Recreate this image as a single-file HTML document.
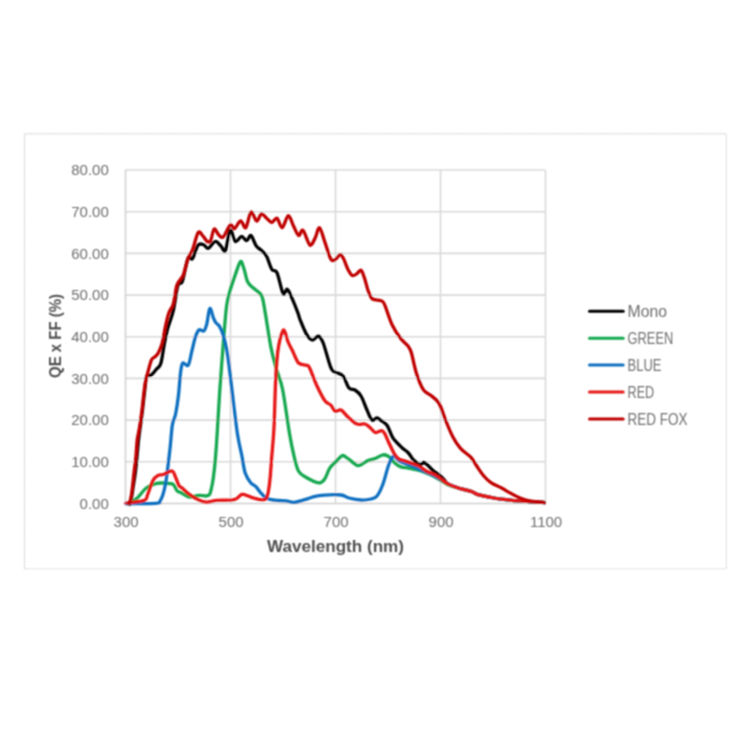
<!DOCTYPE html>
<html><head><meta charset="utf-8"><style>
html,body{margin:0;padding:0;background:#fff;}
body{width:750px;height:750px;overflow:hidden;}
svg{display:block;}
.ax{font-family:"Liberation Sans",sans-serif;font-size:15px;fill:#6e6e6e;}
.ti{font-family:"Liberation Sans",sans-serif;font-size:16px;font-weight:bold;fill:#4f4f4f;}
.lg{font-family:"Liberation Sans",sans-serif;font-size:16.5px;fill:#6e6e6e;}
</style></head><body>
<svg width="750" height="750" viewBox="0 0 750 750"><defs><filter id="bl" x="0" y="0" width="750" height="750" filterUnits="userSpaceOnUse"><feConvolveMatrix order="3" kernelMatrix="1 2 1 2 4 2 1 2 1" divisor="16" edgeMode="duplicate"/></filter></defs><g filter="url(#bl)">
<path d="M24.5 569 V133.8 H726.5" fill="none" stroke="#c8c8c8" stroke-width="1" stroke-dasharray="2 1"/>
<path d="M24.5 568.8 H726.3 V133.8" fill="none" stroke="#e3e3e3" stroke-width="1.1"/>
<line x1="125" y1="170.0" x2="545" y2="170.0" stroke="#d9d9d9" stroke-width="1.6"/>
<line x1="125" y1="211.7" x2="545" y2="211.7" stroke="#d9d9d9" stroke-width="1.6"/>
<line x1="125" y1="253.4" x2="545" y2="253.4" stroke="#d9d9d9" stroke-width="1.6"/>
<line x1="125" y1="295.1" x2="545" y2="295.1" stroke="#d9d9d9" stroke-width="1.6"/>
<line x1="125" y1="336.8" x2="545" y2="336.8" stroke="#d9d9d9" stroke-width="1.6"/>
<line x1="125" y1="378.4" x2="545" y2="378.4" stroke="#d9d9d9" stroke-width="1.6"/>
<line x1="125" y1="420.1" x2="545" y2="420.1" stroke="#d9d9d9" stroke-width="1.6"/>
<line x1="125" y1="461.8" x2="545" y2="461.8" stroke="#d9d9d9" stroke-width="1.6"/>
<line x1="230.5" y1="170" x2="230.5" y2="503.5" stroke="#d9d9d9" stroke-width="1.6"/>
<line x1="335.5" y1="170" x2="335.5" y2="503.5" stroke="#d9d9d9" stroke-width="1.6"/>
<line x1="440.5" y1="170" x2="440.5" y2="503.5" stroke="#d9d9d9" stroke-width="1.6"/>
<line x1="545.5" y1="170" x2="545.5" y2="503.5" stroke="#d9d9d9" stroke-width="1.6"/>
<line x1="125.5" y1="170" x2="125.5" y2="504" stroke="#d0d0d0" stroke-width="1.5"/>
<line x1="125" y1="503.5" x2="545" y2="503.5" stroke="#d0d0d0" stroke-width="1.5"/>
<text x="108.8" y="175.3" text-anchor="end" class="ax">80.00</text>
<text x="108.8" y="217.0" text-anchor="end" class="ax">70.00</text>
<text x="108.8" y="258.7" text-anchor="end" class="ax">60.00</text>
<text x="108.8" y="300.4" text-anchor="end" class="ax">50.00</text>
<text x="108.8" y="342.1" text-anchor="end" class="ax">40.00</text>
<text x="108.8" y="383.7" text-anchor="end" class="ax">30.00</text>
<text x="108.8" y="425.4" text-anchor="end" class="ax">20.00</text>
<text x="108.8" y="467.1" text-anchor="end" class="ax">10.00</text>
<text x="108.8" y="508.8" text-anchor="end" class="ax">0.00</text>
<text x="126.1" y="526.8" text-anchor="middle" class="ax">300</text>
<text x="231.1" y="526.8" text-anchor="middle" class="ax">500</text>
<text x="336.1" y="526.8" text-anchor="middle" class="ax">700</text>
<text x="441.1" y="526.8" text-anchor="middle" class="ax">900</text>
<text x="546.1" y="526.8" text-anchor="middle" class="ax">1100</text>
<text x="335.5" y="551.8" text-anchor="middle" class="ti" textLength="137" lengthAdjust="spacingAndGlyphs">Wavelength (nm)</text>
<text transform="translate(60.8,336) rotate(-90)" text-anchor="middle" class="ti" textLength="84" lengthAdjust="spacingAndGlyphs">QE x FF (%)</text>
<path d="M129.0 504.0 C129.2 503.8 129.8 505.7 130.5 503.0 C131.2 500.3 132.2 493.1 133.0 488.0 C133.8 482.9 134.6 477.9 135.3 472.7 C136.0 467.5 136.5 462.1 137.0 456.7 C137.5 451.2 138.0 444.8 138.5 440.0 C139.0 435.2 139.4 433.0 140.1 428.0 C140.8 423.0 141.7 416.7 142.5 410.0 C143.3 403.3 144.3 393.7 145.0 388.0 C145.7 382.3 145.8 378.1 146.8 376.0 C147.8 373.9 149.4 376.3 151.0 375.2 C152.6 374.1 154.8 371.1 156.4 369.2 C158.0 367.3 159.5 367.7 160.8 363.6 C162.1 359.5 163.1 350.5 164.2 344.7 C165.3 338.9 166.1 334.5 167.6 328.8 C169.1 323.1 171.6 317.9 173.3 310.7 C175.0 303.5 176.3 290.7 177.8 285.8 C179.3 280.9 180.7 285.8 182.4 281.2 C184.1 276.6 186.3 262.3 188.0 258.5 C189.7 254.7 190.9 260.8 192.6 258.5 C194.3 256.2 196.3 247.2 198.2 245.0 C200.1 242.8 202.2 244.4 203.9 245.0 C205.6 245.6 206.5 248.9 208.4 248.3 C210.3 247.7 213.1 241.9 215.2 241.5 C217.3 241.1 219.2 244.5 220.9 246.0 C222.6 247.5 223.9 253.2 225.4 250.6 C226.9 248.0 228.5 231.8 230.2 230.3 C231.9 228.8 233.5 240.6 235.4 241.6 C237.3 242.6 239.6 236.6 241.5 236.4 C243.4 236.2 245.1 240.8 246.7 240.7 C248.3 240.5 249.4 234.6 251.0 235.5 C252.6 236.4 254.5 243.4 256.2 245.9 C257.9 248.4 259.7 248.6 261.4 250.3 C263.1 252.0 264.9 253.1 266.6 256.3 C268.3 259.5 270.1 266.6 271.8 269.3 C273.5 272.1 275.1 268.8 277.0 272.8 C278.9 276.9 281.4 290.9 283.1 293.6 C284.8 296.4 285.8 288.3 287.4 289.3 C289.0 290.3 290.9 295.8 292.6 299.7 C294.3 303.6 296.5 309.2 297.8 312.6 C299.1 316.0 298.8 316.5 300.2 320.0 C301.6 323.5 304.3 330.5 306.3 333.8 C308.3 337.1 310.4 339.6 312.4 340.0 C314.4 340.4 316.7 335.6 318.5 336.1 C320.3 336.6 321.1 337.8 323.2 343.0 C325.2 348.2 328.8 362.7 330.8 367.5 C332.8 372.3 333.0 370.6 335.0 372.0 C337.0 373.4 340.7 373.3 343.0 376.0 C345.3 378.7 347.0 385.7 349.0 388.0 C351.0 390.3 353.0 388.7 355.0 390.0 C357.0 391.3 359.0 392.7 361.0 396.0 C363.0 399.3 365.2 406.0 367.0 410.0 C368.8 414.0 370.3 418.7 372.0 420.0 C373.7 421.3 375.5 417.9 377.0 418.0 C378.5 418.1 379.3 419.3 381.0 420.5 C382.7 421.7 385.1 422.6 387.0 425.3 C388.9 428.1 390.8 434.1 392.4 437.0 C394.0 439.9 395.1 440.6 396.7 442.4 C398.3 444.2 400.1 445.9 402.0 447.7 C403.9 449.5 406.6 451.1 408.4 453.0 C410.2 454.9 411.3 457.4 412.7 459.0 C414.1 460.6 415.7 461.9 417.0 462.8 C418.3 463.7 419.3 464.6 420.5 464.5 C421.7 464.4 422.8 462.3 424.0 462.5 C425.2 462.7 426.5 464.2 428.0 465.5 C429.5 466.8 431.1 468.9 433.0 470.5 C434.9 472.1 437.5 473.5 439.3 475.0 C441.1 476.5 442.7 478.1 444.0 479.5 C445.3 480.9 445.3 482.3 447.3 483.6 C449.3 484.9 452.9 486.2 456.1 487.3 C459.3 488.4 463.7 489.5 466.4 490.2 C469.1 490.9 470.4 491.0 472.3 491.7 C474.2 492.4 474.9 493.6 478.1 494.6 C481.3 495.6 486.7 496.6 491.3 497.5 C495.9 498.4 500.9 499.1 506.0 499.7 C511.1 500.3 515.5 500.7 522.1 501.2 C528.7 501.7 541.6 502.4 545.5 502.6" fill="none" stroke="#000000" stroke-width="3.3" stroke-linejoin="round" stroke-linecap="butt"/>
<path d="M126.0 504.0 C126.7 503.8 128.1 504.0 130.0 503.0 C131.9 502.0 134.6 500.4 137.3 498.0 C140.0 495.6 143.1 490.6 146.0 488.3 C148.9 486.0 152.1 484.9 154.7 484.0 C157.3 483.1 159.0 483.1 161.6 483.0 C164.2 482.9 168.3 483.3 170.3 483.6 C172.3 483.9 172.5 483.6 173.7 484.8 C174.8 486.0 176.0 489.7 177.2 491.0 C178.4 492.3 178.7 491.6 180.7 492.6 C182.7 493.6 186.3 496.6 189.3 497.0 C192.3 497.4 195.9 495.5 198.7 495.3 C201.5 495.1 204.2 496.1 206.0 496.0 C207.8 495.9 208.6 495.8 209.5 494.5 C210.4 493.2 210.9 490.8 211.5 488.0 C212.1 485.2 212.7 482.7 213.3 478.0 C213.9 473.3 214.6 468.3 215.3 460.0 C216.0 451.7 216.8 439.7 217.5 428.0 C218.2 416.3 218.9 403.9 219.8 390.0 C220.8 376.1 222.1 358.7 223.2 344.7 C224.3 330.7 225.4 315.1 226.6 306.0 C227.8 296.9 228.7 295.4 230.2 290.1 C231.7 284.9 233.7 279.3 235.4 274.5 C237.1 269.7 239.2 262.4 240.6 261.5 C242.0 260.6 242.9 266.0 244.1 269.3 C245.2 272.6 246.1 278.5 247.5 281.5 C248.9 284.5 250.4 285.2 252.7 287.5 C255.0 289.8 259.4 291.4 261.4 295.3 C263.4 299.2 263.3 302.2 264.9 310.9 C266.5 319.6 269.1 337.9 271.0 347.6 C272.9 357.3 274.5 362.1 276.4 369.0 C278.3 375.9 280.3 378.3 282.5 389.0 C284.7 399.7 287.5 421.8 289.4 433.0 C291.3 444.2 292.5 449.6 294.0 456.0 C295.5 462.4 296.6 467.7 298.6 471.3 C300.7 474.9 303.0 475.6 306.3 477.5 C309.6 479.4 315.5 482.6 318.6 482.9 C321.7 483.1 322.9 481.4 324.7 479.0 C326.5 476.6 327.7 471.3 329.6 468.4 C331.5 465.5 333.9 463.6 336.0 461.5 C338.1 459.4 340.5 456.2 342.4 455.6 C344.3 455.0 344.8 456.4 347.2 458.0 C349.6 459.6 354.4 464.1 356.8 465.2 C359.2 466.3 359.7 465.2 361.6 464.4 C363.5 463.6 365.9 461.3 368.0 460.4 C370.1 459.5 371.9 459.7 374.4 458.8 C376.9 457.9 380.7 455.1 383.2 454.8 C385.7 454.5 387.3 455.5 389.2 456.8 C391.1 458.1 392.6 461.0 394.5 462.7 C396.4 464.4 398.6 466.0 400.9 466.9 C403.2 467.8 405.5 467.5 408.4 468.0 C411.2 468.5 415.3 469.4 418.0 470.1 C420.7 470.8 421.7 471.2 424.4 472.3 C427.1 473.4 431.2 475.1 434.0 476.5 C436.8 477.9 438.8 479.2 441.0 480.5 C443.2 481.8 444.8 483.3 447.3 484.4 C449.8 485.5 452.9 486.3 456.1 487.3 C459.3 488.3 463.7 489.5 466.4 490.2 C469.1 490.9 470.4 491.0 472.3 491.7 C474.2 492.4 474.9 493.6 478.1 494.6 C481.3 495.6 486.7 496.6 491.3 497.5 C495.9 498.4 500.9 499.1 506.0 499.7 C511.1 500.3 515.5 500.7 522.1 501.2 C528.7 501.7 541.6 502.4 545.5 502.6" fill="none" stroke="#15a84f" stroke-width="3.3" stroke-linejoin="round" stroke-linecap="butt"/>
<path d="M125.0 503.5 C130.2 503.5 150.2 503.7 156.0 503.3 C161.8 502.9 158.9 502.4 160.0 501.0 C161.1 499.6 161.9 497.8 162.8 495.0 C163.7 492.2 164.7 488.2 165.5 484.0 C166.3 479.8 166.7 476.3 167.5 470.0 C168.3 463.7 169.5 453.6 170.3 446.0 C171.1 438.4 171.5 430.0 172.4 424.7 C173.3 419.4 174.6 418.9 175.6 414.0 C176.6 409.1 177.7 401.8 178.5 395.0 C179.3 388.2 179.8 378.3 180.5 373.0 C181.2 367.7 181.5 364.3 182.8 363.0 C184.1 361.7 186.7 367.1 188.2 365.2 C189.7 363.3 190.6 356.1 191.8 351.4 C193.0 346.7 194.2 340.6 195.4 337.0 C196.6 333.4 197.6 330.8 199.0 329.8 C200.4 328.8 202.5 332.0 203.8 331.0 C205.1 330.0 205.8 327.6 206.8 323.8 C207.8 320.1 208.7 309.5 209.8 308.5 C210.9 307.5 212.4 315.4 213.4 317.8 C214.4 320.2 214.8 321.2 215.8 322.6 C216.8 324.0 218.2 324.2 219.4 326.2 C220.6 328.2 221.8 330.8 223.0 334.6 C224.2 338.4 225.5 343.4 226.6 349.0 C227.7 354.6 228.5 362.0 229.3 368.0 C230.1 374.0 230.1 374.2 231.4 385.0 C232.7 395.8 235.6 421.2 237.3 433.0 C239.1 444.8 240.6 449.3 241.9 456.0 C243.2 462.7 243.8 468.9 245.3 473.3 C246.8 477.8 248.9 480.5 250.7 482.7 C252.5 484.9 254.4 485.1 256.0 486.7 C257.6 488.2 258.4 490.2 260.0 492.0 C261.6 493.8 263.5 496.0 265.3 497.3 C267.1 498.6 268.8 499.2 271.0 499.7 C273.2 500.2 276.1 500.3 278.7 500.5 C281.2 500.7 283.8 500.5 286.3 500.8 C288.9 501.1 290.9 502.5 294.0 502.3 C297.1 502.1 301.5 500.6 304.8 499.7 C308.1 498.8 310.7 497.5 314.0 496.7 C317.3 495.9 320.2 495.4 324.7 495.1 C329.2 494.8 336.9 494.5 341.0 495.0 C345.1 495.5 345.7 497.2 349.0 498.0 C352.3 498.8 357.3 499.8 361.0 500.0 C364.7 500.2 368.3 499.7 371.0 499.0 C373.7 498.3 375.0 498.5 377.0 496.0 C379.0 493.5 381.0 489.3 383.0 484.0 C385.0 478.7 387.2 468.6 389.0 464.0 C390.8 459.4 391.9 456.9 393.5 456.3 C395.1 455.7 396.9 459.3 398.8 460.5 C400.7 461.7 402.8 462.6 405.0 463.5 C407.2 464.4 409.8 465.1 412.0 466.0 C414.2 466.9 415.9 467.9 418.0 468.8 C420.1 469.7 421.7 470.3 424.4 471.5 C427.1 472.7 431.2 474.5 434.0 475.8 C436.8 477.1 438.8 478.2 441.0 479.5 C443.2 480.8 444.8 482.3 447.3 483.6 C449.8 484.9 452.9 486.2 456.1 487.3 C459.3 488.4 463.7 489.5 466.4 490.2 C469.1 490.9 470.4 491.0 472.3 491.7 C474.2 492.4 474.9 493.6 478.1 494.6 C481.3 495.6 486.7 496.6 491.3 497.5 C495.9 498.4 500.9 499.1 506.0 499.7 C511.1 500.3 515.5 500.7 522.1 501.2 C528.7 501.7 541.6 502.4 545.5 502.6" fill="none" stroke="#1170c0" stroke-width="3.3" stroke-linejoin="round" stroke-linecap="butt"/>
<path d="M126.0 504.0 C126.2 503.8 124.0 503.6 127.0 503.0 C130.1 502.4 140.9 501.8 144.3 500.4 C147.8 499.0 146.2 497.7 147.7 494.4 C149.1 491.1 151.3 483.7 153.0 480.5 C154.7 477.3 156.3 476.3 158.0 475.3 C159.7 474.3 161.0 475.2 163.3 474.5 C165.6 473.8 170.0 470.6 172.0 471.0 C174.0 471.4 174.3 474.6 175.5 477.0 C176.7 479.4 177.8 483.8 179.0 485.7 C180.2 487.6 180.7 486.9 182.4 488.3 C184.1 489.8 186.7 492.5 189.3 494.4 C191.9 496.3 195.1 498.3 198.0 499.6 C200.9 500.9 203.5 502.1 206.7 502.2 C209.9 502.3 212.4 500.8 217.0 500.4 C221.6 500.0 230.0 500.7 234.2 499.7 C238.3 498.7 239.6 495.0 241.9 494.4 C244.2 493.8 246.0 495.3 248.0 495.9 C250.0 496.5 251.2 497.7 254.1 498.2 C257.0 498.7 263.0 501.4 265.6 499.0 C268.2 496.6 268.5 490.8 269.5 483.6 C270.5 476.4 271.0 465.7 271.8 456.0 C272.6 446.3 273.5 437.8 274.1 425.3 C274.7 412.9 275.0 393.7 275.6 381.3 C276.2 368.9 276.7 359.1 277.9 350.7 C279.1 342.3 281.5 333.8 282.8 331.0 C284.1 328.2 284.8 332.1 285.6 333.8 C286.5 335.6 286.8 338.7 287.9 341.5 C289.0 344.3 290.7 347.1 292.5 350.7 C294.3 354.3 296.3 360.6 298.6 363.0 C300.9 365.4 304.5 364.4 306.3 365.2 C308.1 365.9 307.6 364.0 309.4 367.5 C311.2 371.0 314.4 380.5 317.0 386.0 C319.6 391.5 322.4 397.3 324.7 400.5 C327.0 403.7 329.0 403.3 330.8 405.1 C332.6 406.9 333.7 410.5 335.4 411.3 C337.1 412.1 338.7 408.9 341.0 410.0 C343.3 411.1 346.3 415.7 349.0 418.0 C351.7 420.3 354.3 423.0 357.0 424.0 C359.7 425.0 362.8 423.4 365.0 424.0 C367.2 424.6 368.3 426.1 370.0 427.5 C371.7 428.9 373.4 432.0 375.3 432.5 C377.2 433.0 380.1 430.5 381.7 430.7 C383.3 430.9 383.6 431.8 384.9 433.9 C386.1 436.0 387.6 440.1 389.2 443.5 C390.8 446.9 392.9 451.5 394.5 454.1 C396.1 456.7 397.0 457.7 398.8 458.9 C400.6 460.1 402.9 460.3 405.2 461.1 C407.5 461.9 410.2 462.7 412.7 463.7 C415.2 464.7 417.8 465.6 420.1 466.9 C422.4 468.1 423.8 469.8 426.5 471.2 C429.2 472.6 433.7 474.2 436.1 475.5 C438.5 476.8 439.1 477.6 441.0 479.0 C442.9 480.4 444.8 482.2 447.3 483.6 C449.8 485.0 452.9 486.2 456.1 487.3 C459.3 488.4 463.7 489.5 466.4 490.2 C469.1 490.9 470.4 491.0 472.3 491.7 C474.2 492.4 474.9 493.6 478.1 494.6 C481.3 495.6 486.7 496.6 491.3 497.5 C495.9 498.4 500.9 499.1 506.0 499.7 C511.1 500.3 515.5 500.7 522.1 501.2 C528.7 501.7 541.6 502.4 545.5 502.6" fill="none" stroke="#e61414" stroke-width="3.3" stroke-linejoin="round" stroke-linecap="butt"/>
<path d="M128.0 504.0 C128.2 503.8 128.9 504.7 129.5 503.0 C130.1 501.3 130.8 499.1 131.6 494.0 C132.3 488.9 133.3 478.9 134.0 472.7 C134.7 466.5 135.4 462.1 135.9 456.7 C136.4 451.2 136.6 444.9 137.2 440.0 C137.8 435.1 138.8 432.0 139.6 427.0 C140.4 422.0 141.3 415.8 142.0 410.0 C142.7 404.2 143.4 396.8 144.0 392.0 C144.6 387.2 144.9 384.6 145.6 381.2 C146.3 377.8 147.0 375.2 148.0 371.6 C149.0 368.0 150.4 362.1 151.6 359.6 C152.8 357.1 154.0 357.8 155.2 356.6 C156.3 355.4 157.4 354.7 158.5 352.5 C159.6 350.3 160.8 347.9 162.0 343.6 C163.2 339.3 164.3 331.7 165.4 326.6 C166.5 321.5 167.5 316.8 168.8 313.0 C170.1 309.2 172.0 308.4 173.3 303.9 C174.6 299.4 175.6 289.8 176.7 285.8 C177.8 281.8 178.9 281.9 180.0 280.0 C181.1 278.1 182.2 278.0 183.5 274.4 C184.8 270.8 186.5 262.6 188.0 258.5 C189.5 254.3 190.9 253.8 192.6 249.5 C194.3 245.2 196.5 234.8 198.2 232.5 C199.9 230.2 201.3 234.4 202.8 235.9 C204.3 237.4 206.0 240.8 207.3 241.5 C208.6 242.2 209.6 242.5 210.7 240.4 C211.8 238.3 212.8 229.9 214.1 229.0 C215.4 228.1 217.1 233.4 218.6 234.7 C220.1 236.0 221.3 238.6 223.2 237.0 C225.1 235.4 228.3 226.5 230.2 225.1 C232.1 223.7 232.8 229.3 234.5 228.6 C236.2 227.9 238.7 221.0 240.6 220.8 C242.5 220.7 244.1 229.1 245.8 227.7 C247.5 226.2 249.2 213.2 251.0 212.1 C252.8 211.0 255.1 220.9 256.8 221.2 C258.5 221.5 259.8 214.4 261.4 213.9 C263.0 213.4 264.9 216.8 266.6 218.2 C268.3 219.6 270.1 222.5 271.8 222.5 C273.5 222.5 275.3 217.3 277.0 218.2 C278.7 219.1 280.3 228.1 282.2 227.7 C284.1 227.3 286.4 215.9 288.3 215.6 C290.2 215.3 291.8 222.7 293.5 226.0 C295.2 229.3 297.1 234.8 298.7 235.5 C300.3 236.2 301.1 228.7 303.0 230.3 C304.9 231.9 307.9 243.7 309.9 245.0 C311.9 246.3 313.5 241.0 315.1 238.1 C316.7 235.2 317.9 227.1 319.5 227.7 C321.1 228.3 322.8 236.4 324.7 241.6 C326.6 246.8 329.0 255.9 330.7 258.9 C332.4 261.9 333.4 260.5 335.0 259.8 C336.6 259.1 338.8 254.8 340.2 254.7 C341.6 254.6 342.4 256.5 343.7 259.0 C345.0 261.5 346.6 266.8 348.0 269.5 C349.4 272.2 350.9 274.8 352.3 275.5 C353.8 276.2 355.2 274.7 356.7 273.8 C358.1 272.9 359.7 269.6 361.0 270.3 C362.3 271.0 363.3 274.8 364.5 278.1 C365.7 281.4 366.7 286.8 368.0 290.3 C369.3 293.8 370.2 297.2 372.3 298.9 C374.4 300.6 378.9 299.8 380.9 300.7 C382.9 301.6 382.5 300.1 384.4 304.1 C386.3 308.2 389.4 319.2 392.2 325.0 C394.9 330.8 398.3 335.4 400.9 338.8 C403.5 342.2 406.1 343.4 407.8 345.7 C409.5 348.0 409.9 348.0 411.3 352.6 C412.7 357.2 414.4 367.0 416.4 373.2 C418.4 379.4 421.0 386.0 423.3 389.6 C425.6 393.2 428.0 393.0 430.3 394.9 C432.6 396.8 435.4 398.8 437.2 400.9 C439.0 403.0 439.6 404.1 441.0 407.5 C442.4 410.9 443.9 416.0 445.9 421.0 C447.9 426.0 450.8 433.0 453.2 437.6 C455.6 442.2 457.6 445.1 460.5 448.4 C463.4 451.7 468.1 454.3 470.8 457.2 C473.5 460.1 474.5 462.8 476.7 466.0 C478.9 469.2 481.6 473.5 484.0 476.3 C486.4 479.1 488.4 480.9 491.3 482.9 C494.2 484.8 498.4 486.3 501.6 488.0 C504.8 489.7 507.2 491.4 510.4 493.1 C513.6 494.8 517.3 497.0 520.7 498.3 C524.1 499.6 526.9 500.5 531.0 501.2 C535.1 501.9 543.1 502.4 545.5 502.6" fill="none" stroke="#c00000" stroke-width="3.3" stroke-linejoin="round" stroke-linecap="butt"/>
<line x1="589.5" y1="311.3" x2="623.2" y2="311.3" stroke="#000000" stroke-width="3" stroke-linecap="round"/>
<text x="627.6" y="317.3" class="lg" textLength="39.4" lengthAdjust="spacingAndGlyphs">Mono</text>
<line x1="589.5" y1="338.2" x2="623.2" y2="338.2" stroke="#15a84f" stroke-width="3" stroke-linecap="round"/>
<text x="627.6" y="344.2" class="lg" textLength="45.6" lengthAdjust="spacingAndGlyphs">GREEN</text>
<line x1="589.5" y1="365.1" x2="623.2" y2="365.1" stroke="#1170c0" stroke-width="3" stroke-linecap="round"/>
<text x="627.6" y="371.1" class="lg" textLength="33.9" lengthAdjust="spacingAndGlyphs">BLUE</text>
<line x1="589.5" y1="392.0" x2="623.2" y2="392.0" stroke="#e61414" stroke-width="3" stroke-linecap="round"/>
<text x="627.6" y="398.0" class="lg" textLength="26.6" lengthAdjust="spacingAndGlyphs">RED</text>
<line x1="589.5" y1="418.9" x2="623.2" y2="418.9" stroke="#c00000" stroke-width="3" stroke-linecap="round"/>
<text x="627.6" y="424.9" class="lg" textLength="60.0" lengthAdjust="spacingAndGlyphs">RED FOX</text>
</g></svg></body></html>
